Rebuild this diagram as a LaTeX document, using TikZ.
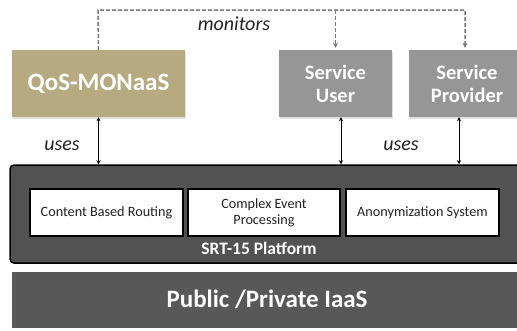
\documentclass[tikz,border=0pt]{standalone}
\usepackage{fontspec}
\setmainfont{Carlito}
\usetikzlibrary{arrows.meta,positioning,shadows}
\definecolor{qosolive}{RGB}{182,171,128}
\definecolor{svcgray}{RGB}{150,150,150}
\definecolor{platdark}{RGB}{82,82,82}
\definecolor{iaasgray}{RGB}{88,88,88}
\definecolor{monline}{RGB}{120,120,120}
\definecolor{labtext}{RGB}{35,35,35}

\tikzset{
 topbox/.style={inner sep=0pt,minimum height=67pt,align=center,text=white,
   font=\bfseries\fontsize{20.5}{23}\selectfont,
   drop shadow={opacity=0.25,shadow xshift=0.8pt,shadow yshift=-1.5pt}},
 modbox/.style={draw=black,line width=1.3pt,fill=white,inner sep=0pt,
   minimum height=47pt,align=center,text=labtext,font=\fontsize{14.2}{16}\selectfont},
 monarrow/.style={monline,line width=1.5pt,dash pattern=on 4pt off 2pt,
   -{Stealth[length=5pt,width=5pt]},shorten >=2pt},
 usesarrow/.style={black,line width=1pt,{Stealth[length=4pt,width=4pt]}-{Stealth[length=4pt,width=4pt]}},
 lab/.style={text=labtext,font=\itshape\fontsize{20}{22}\selectfont}
}

\begin{document}
\begin{tikzpicture}[x=1pt,y=-1pt]
 \useasboundingbox (0,0) rectangle (517,330);
 \clip (0,0) rectangle (517,330);
 % stack: IaaS and platform
 \node[fill=iaasgray,minimum width=512pt,minimum height=56pt,inner sep=0pt] (iaas) at (268,300) {};
 \node[text=white,font=\bfseries\fontsize{25}{28}\selectfont] (iaastxt) at (267,299) {Public /Private IaaS};
 \node[draw=black,line width=1.5pt,rounded corners=4pt,fill=platdark,
   minimum width=520pt,minimum height=98pt,inner sep=0pt] (plat) at (270,214) {};
 \node[modbox,minimum width=153pt] (cbr) at (106.5,212.5) {Content Based Routing};
 \node[modbox,minimum width=152pt] (cep) at (264,212.5) {Complex Event\\Processing};
 \node[modbox,minimum width=153pt] (anon) at (422.5,212.5) {Anonymization System};
 \node[text=white,font=\bfseries\fontsize{17.5}{20}\selectfont] (plattxt) at (259,248) {SRT-15 Platform};
 % services on top
 \node[topbox,fill=qosolive,minimum width=173pt,font=\bfseries\fontsize{25}{28}\selectfont] (qos) at (98.5,83.5) {QoS-MONaaS};
 \node[topbox,fill=svcgray,minimum width=113pt] (user) at (335.5,83.5) {Service\\User};
 \node[topbox,fill=svcgray,minimum width=116pt] (prov) at (467,83.5) {Service\\Provider};
 % monitoring
 \coordinate (mtop) at (98,10);
 \draw[monarrow] (qos.north) -- (mtop) -| ([xshift=-2pt]prov.north);
 \draw[monarrow] (user.north |- mtop) -- (user.north);
 \node[lab] (montxt) at (234,24) {monitors};
 % uses
 \draw[usesarrow] (qos.south) -- (qos.south |- plat.north);
 \draw[usesarrow] ([xshift=5.5pt]user.south) -- ([xshift=5.5pt]user.south |- plat.north);
 \draw[usesarrow] ([xshift=-8pt]prov.south) -- ([xshift=-8pt]prov.south |- plat.north);
 \node[lab] (usesl) at (62,146) {uses};
 \node[lab] (usesr) at (401,146) {uses};
\end{tikzpicture}
\end{document}
